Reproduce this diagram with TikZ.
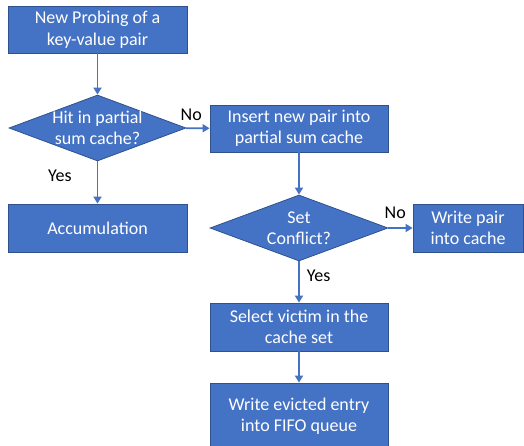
\documentclass[tikz,border=0pt]{standalone}
\usepackage{fontspec}
\setmainfont{Carlito}
\usetikzlibrary{shapes.geometric,arrows.meta}
\definecolor{boxblue}{HTML}{4472C4}
\definecolor{boxedge}{HTML}{2F528F}
\tikzset{
	stepbox/.style={rectangle, draw=boxedge, line width=0.8pt, fill=boxblue, text=white,
		align=center, inner sep=0pt, font=\fontsize{18}{21.5}\selectfont},
	decision/.style={diamond, draw=boxedge, line width=0.8pt, fill=boxblue, text=white,
		align=center, inner xsep=-20pt, inner ysep=0pt, aspect=2,
		minimum width=177pt, minimum height=66pt, font=\fontsize{18}{21.5}\selectfont},
	flow/.style={draw=boxblue, line width=1.8pt, -{Triangle[length=7pt,width=8pt]}},
	answer/.style={font=\fontsize{18}{21.5}\selectfont, inner sep=0pt}
}
\begin{document}
\begin{tikzpicture}[x=1pt,y=-1pt]
				\useasboundingbox (0,0) rectangle (524,446) ;
				% Left column
				\node[stepbox, minimum width=179pt, minimum height=47pt] (probe) at (97.5,29.5) {New Probing of a\\key-value pair} ;
				\node[decision] (hit) at (97.5,128) {Hit in partial\\sum cache?} ;
				\node[stepbox, minimum width=179pt, minimum height=48pt] (accum) at (97.5,228) {Accumulation} ;
				% Right column
				\node[stepbox, minimum width=178pt, minimum height=47pt] (insert) at (299,128.5) {Insert new pair into\\partial sum cache} ;
				\node[decision, minimum width=178pt] (conflict) at (299,228) {Set\\Conflict?} ;
				\node[stepbox, minimum width=110pt, minimum height=48pt] (writepair) at (468,228) {Write pair\\into cache} ;
				\node[stepbox, minimum width=178pt, minimum height=48pt] (victim) at (299,327) {Select victim in the\\cache set} ;
				\node[stepbox, minimum width=178pt, minimum height=66pt] (evict) at (299,416) {Write evicted entry\\into FIFO queue} ;
				% Arrows and answers
				\draw[flow] (probe) -- (hit) ;
				\draw[flow] (hit) -- node[answer, pos=0.23, above=7pt] {No} (insert) ;
				\draw[flow] (hit) -- node[answer, pos=0.35, left=25pt] {Yes} (accum) ;
				\draw[flow] (insert) -- (conflict) ;
				\draw[flow] (conflict) -- node[answer, pos=0.28, above=8pt] {No} (writepair) ;
				\draw[flow] (conflict) -- node[answer, pos=0.36, right=7pt] {Yes} (victim) ;
				\draw[flow] (victim) -- (evict) ;
			\end{tikzpicture}
\end{document}
